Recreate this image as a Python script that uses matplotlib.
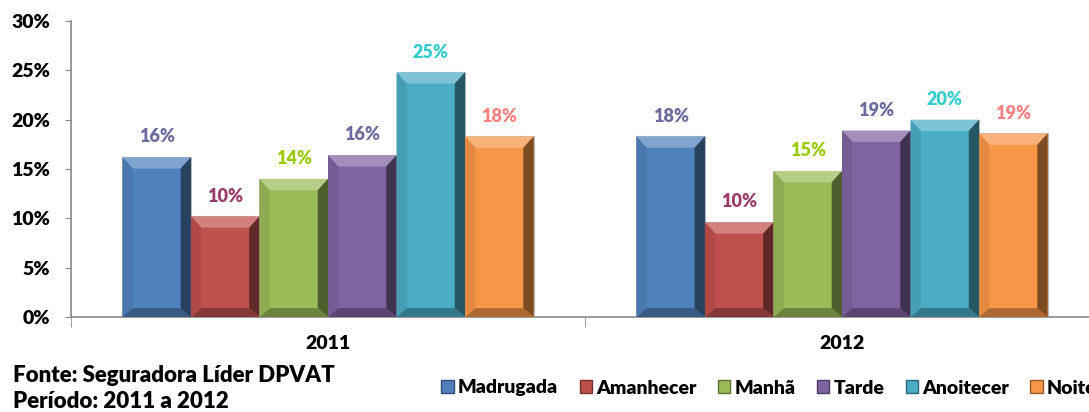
import matplotlib
matplotlib.use("Agg")
import matplotlib.pyplot as plt
from matplotlib.patches import Polygon, Patch
import numpy as np

plt.rcParams['font.family'] = ['Lato', 'DejaVu Sans']
plt.rcParams['font.weight'] = 'bold'

years = ["2011", "2012"]
periods = ["Madrugada", "Amanhecer", "Manhã", "Tarde", "Anoitecer", "Noite"]
madrugada = [16.2, 18.3]
amanhecer = [10.2, 9.6]
manha = [14.0, 14.8]
tarde = [16.4, 18.9]
anoitecer = [24.8, 20.0]
noite = [18.3, 18.6]
series = [madrugada, amanhecer, manha, tarde, anoitecer, noite]
labels_2011 = ["16%", "10%", "14%", "16%", "25%", "18%"]
labels_2012 = ["18%", "10%", "15%", "19%", "20%", "19%"]
yticks = [0, 5, 10, 15, 20, 25, 30]

bar_colors = ["#4F81BD", "#C0504D", "#9BBB59", "#8064A2", "#4BACC6", "#F79646"]
label_colors = ["#6B6B9F", "#9B3B6B", "#99CC00", "#6B6B9F", "#33CCCC", "#FF8080"]

W = 800  # font weight

def shade(c, f):
    c = np.array(matplotlib.colors.to_rgb(c))
    if f >= 0:
        return tuple(c + (1 - c) * f)
    return tuple(c * (1 + f))

fig = plt.figure(figsize=(10.89, 4.12), dpi=100)
ax = fig.add_axes([71/1089, 95/412, 1028/1089, 296/412])

x = np.arange(len(years))
w = 0.8 / len(periods)
bw = 0.02    # side bevel width (x data)
bt = 1.15    # top bevel height (%)
bb = 0.9     # bottom bevel height (%)
for i, (vals, col) in enumerate(zip(series, bar_colors)):
    xs = x - 0.4 + w * i
    bars = ax.bar(xs, vals, width=w, align='edge', color=col,
                  edgecolor='#b8b8b8', linewidth=0.8, zorder=2)
    for b, v in zip(bars, vals):
        x0, x1 = b.get_x(), b.get_x() + b.get_width()
        ax.add_patch(Polygon([[x0, v], [x1, v], [x1 - bw, v - bt], [x0 + bw, v - bt]],
                             closed=True, color=shade(col, 0.28), lw=0, zorder=3))
        ax.add_patch(Polygon([[x1, v], [x1, 0], [x1 - bw, bb], [x1 - bw, v - bt]],
                             closed=True, color=shade(col, -0.5), lw=0, zorder=3))
        ax.add_patch(Polygon([[x0, 0], [x1, 0], [x1 - bw, bb], [x0 + bw, bb]],
                             closed=True, color=shade(col, -0.3), lw=0, zorder=3))
        ax.add_patch(Polygon([[x0, 0], [x0, v], [x0 + bw, v - bt], [x0 + bw, bb]],
                             closed=True, color=shade(col, -0.08), lw=0, zorder=3))
    for j, v in enumerate(vals):
        lab = (labels_2011 if j == 0 else labels_2012)[i]
        ax.text(xs[j] + w / 2, v + 1.5, lab, ha='center', va='baseline',
                color=label_colors[i], fontsize=13, fontweight=W)

ax.set_xlim(-0.5, 1.5)
ax.set_ylim(0, 30)
ax.set_yticks(yticks)
ax.set_yticklabels([f"{t}%" for t in yticks], fontsize=14, fontweight=W)
ax.set_xticks(x)
ax.set_xticklabels(years, fontsize=14, fontweight=W)
ax.set_xticks([-0.5, 0.5, 1.5], minor=True)
ax.tick_params(axis='x', which='major', length=0, pad=13)
ax.tick_params(axis='x', which='minor', length=7, color='#888888', direction='out')
ax.tick_params(axis='y', length=4.5, color='#888888', pad=10.5)
for s in ['top', 'right']:
    ax.spines[s].set_visible(False)
for s in ['left', 'bottom']:
    ax.spines[s].set_color('#888888')
    ax.spines[s].set_linewidth(1.2)

handles = [Patch(facecolor=c, edgecolor=shade(c, -0.4)) for c in bar_colors]
fig.legend(handles, periods, loc='center left', bbox_to_anchor=(424/1089, 1 - 388/412),
           ncol=6, frameon=False, handlelength=0.65, handleheight=0.65,
           handletextpad=0.2, columnspacing=1.1, prop={'weight': W, 'size': 14})

fig.text(13/1089, 1 - 381.5/412, "Fonte: Seguradora Líder DPVAT", fontsize=16,
         fontweight=W, va='baseline', ha='left')
fig.text(13/1089, 1 - 408/412, "Período: 2011 a 2012", fontsize=16,
         fontweight=W, va='baseline', ha='left')

fig.savefig("out.png", dpi=100)
